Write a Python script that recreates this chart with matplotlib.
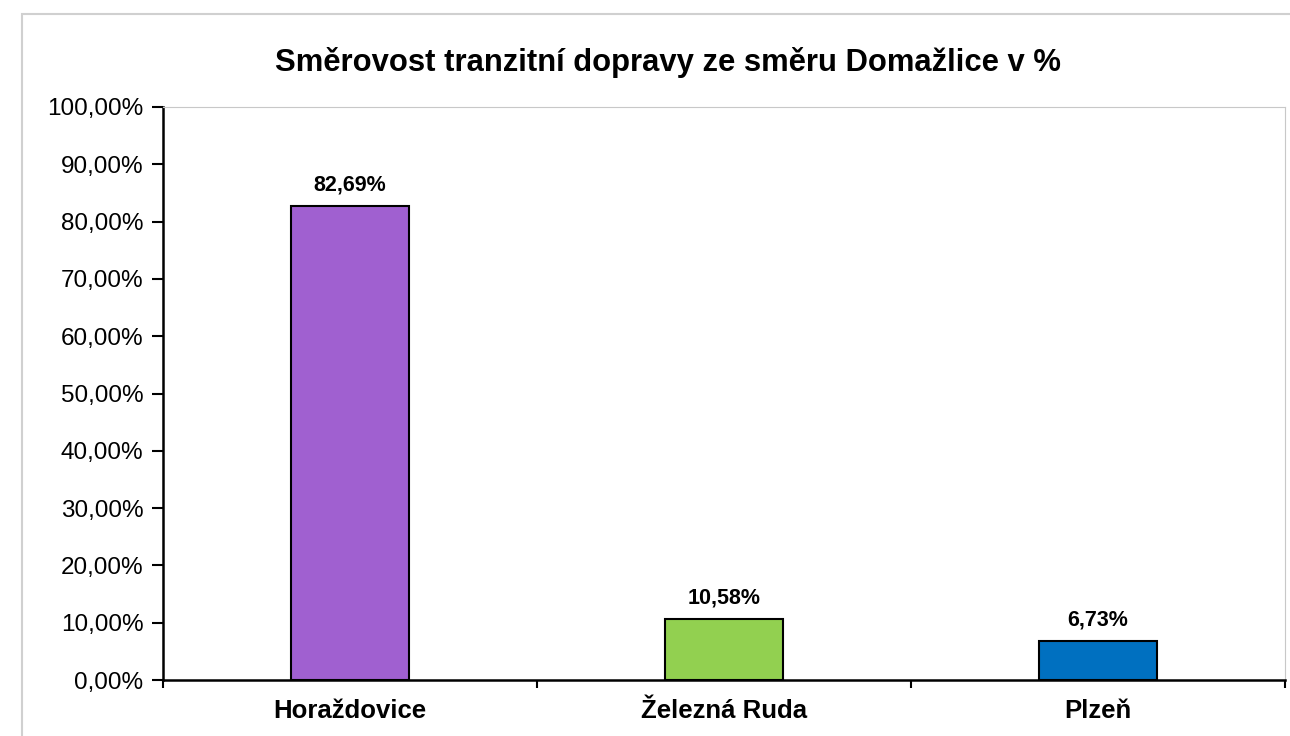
import matplotlib.pyplot as plt
from matplotlib.patches import Rectangle
from matplotlib.ticker import FuncFormatter, FixedLocator

plt.rcParams['font.family'] = ['Liberation Sans', 'DejaVu Sans']

categories = ['Horaždovice', 'Železná Ruda', 'Plzeň']
values = [82.69, 10.58, 6.73]
colors = ['#A060D0', '#92D050', '#0070C0']
title = 'Směrovost tranzitní dopravy ze směru Domažlice v %'

fig = plt.figure(figsize=(12.9, 7.36), dpi=100)
fig.patches.append(Rectangle((22 / 1290, -0.05), 1.1, 1.05 - 14 / 736,
                             transform=fig.transFigure, fill=False,
                             edgecolor='#d0d0d0', linewidth=1.5))
ax = fig.add_axes([163 / 1290, 56 / 736, (1285 - 163) / 1290, (680 - 107) / 736])

x = list(range(len(categories)))
ax.bar(x, values, width=0.316, color=colors, edgecolor='black', linewidth=1.5)
for xi, v in zip(x, values):
    ax.text(xi, v + 1.9, f'{v:.2f}%'.replace('.', ','), ha='center', va='bottom',
            fontsize=15.5, fontweight='bold')

ax.set_xlim(-0.5, 2.5)
ax.set_ylim(0, 100)
ax.set_yticks(range(0, 101, 10))
ax.yaxis.set_major_formatter(FuncFormatter(lambda v, p: f'{v:.2f}%'.replace('.', ',')))
ax.tick_params(axis='y', direction='out', length=8, width=1.5, labelsize=17.5, pad=6)

ax.set_xticks(x)
ax.set_xticklabels(categories, fontsize=18.5, fontweight='bold')
ax.tick_params(axis='x', which='major', length=0, pad=14)
ax.xaxis.set_minor_locator(FixedLocator([-0.5, 0.5, 1.5, 2.5]))
ax.tick_params(axis='x', which='minor', direction='out', length=6, width=1.5)

ax.spines['left'].set_linewidth(1.8)
ax.spines['bottom'].set_linewidth(1.8)
ax.spines['top'].set_color('#c8c8c8')
ax.spines['right'].set_color('#c8c8c8')

fig.text(0.5 + 23 / 1290, 1 - 62 / 736, title, ha='center', va='center',
         fontsize=22.3, fontweight='bold')

fig.savefig('out.png', dpi=100)
